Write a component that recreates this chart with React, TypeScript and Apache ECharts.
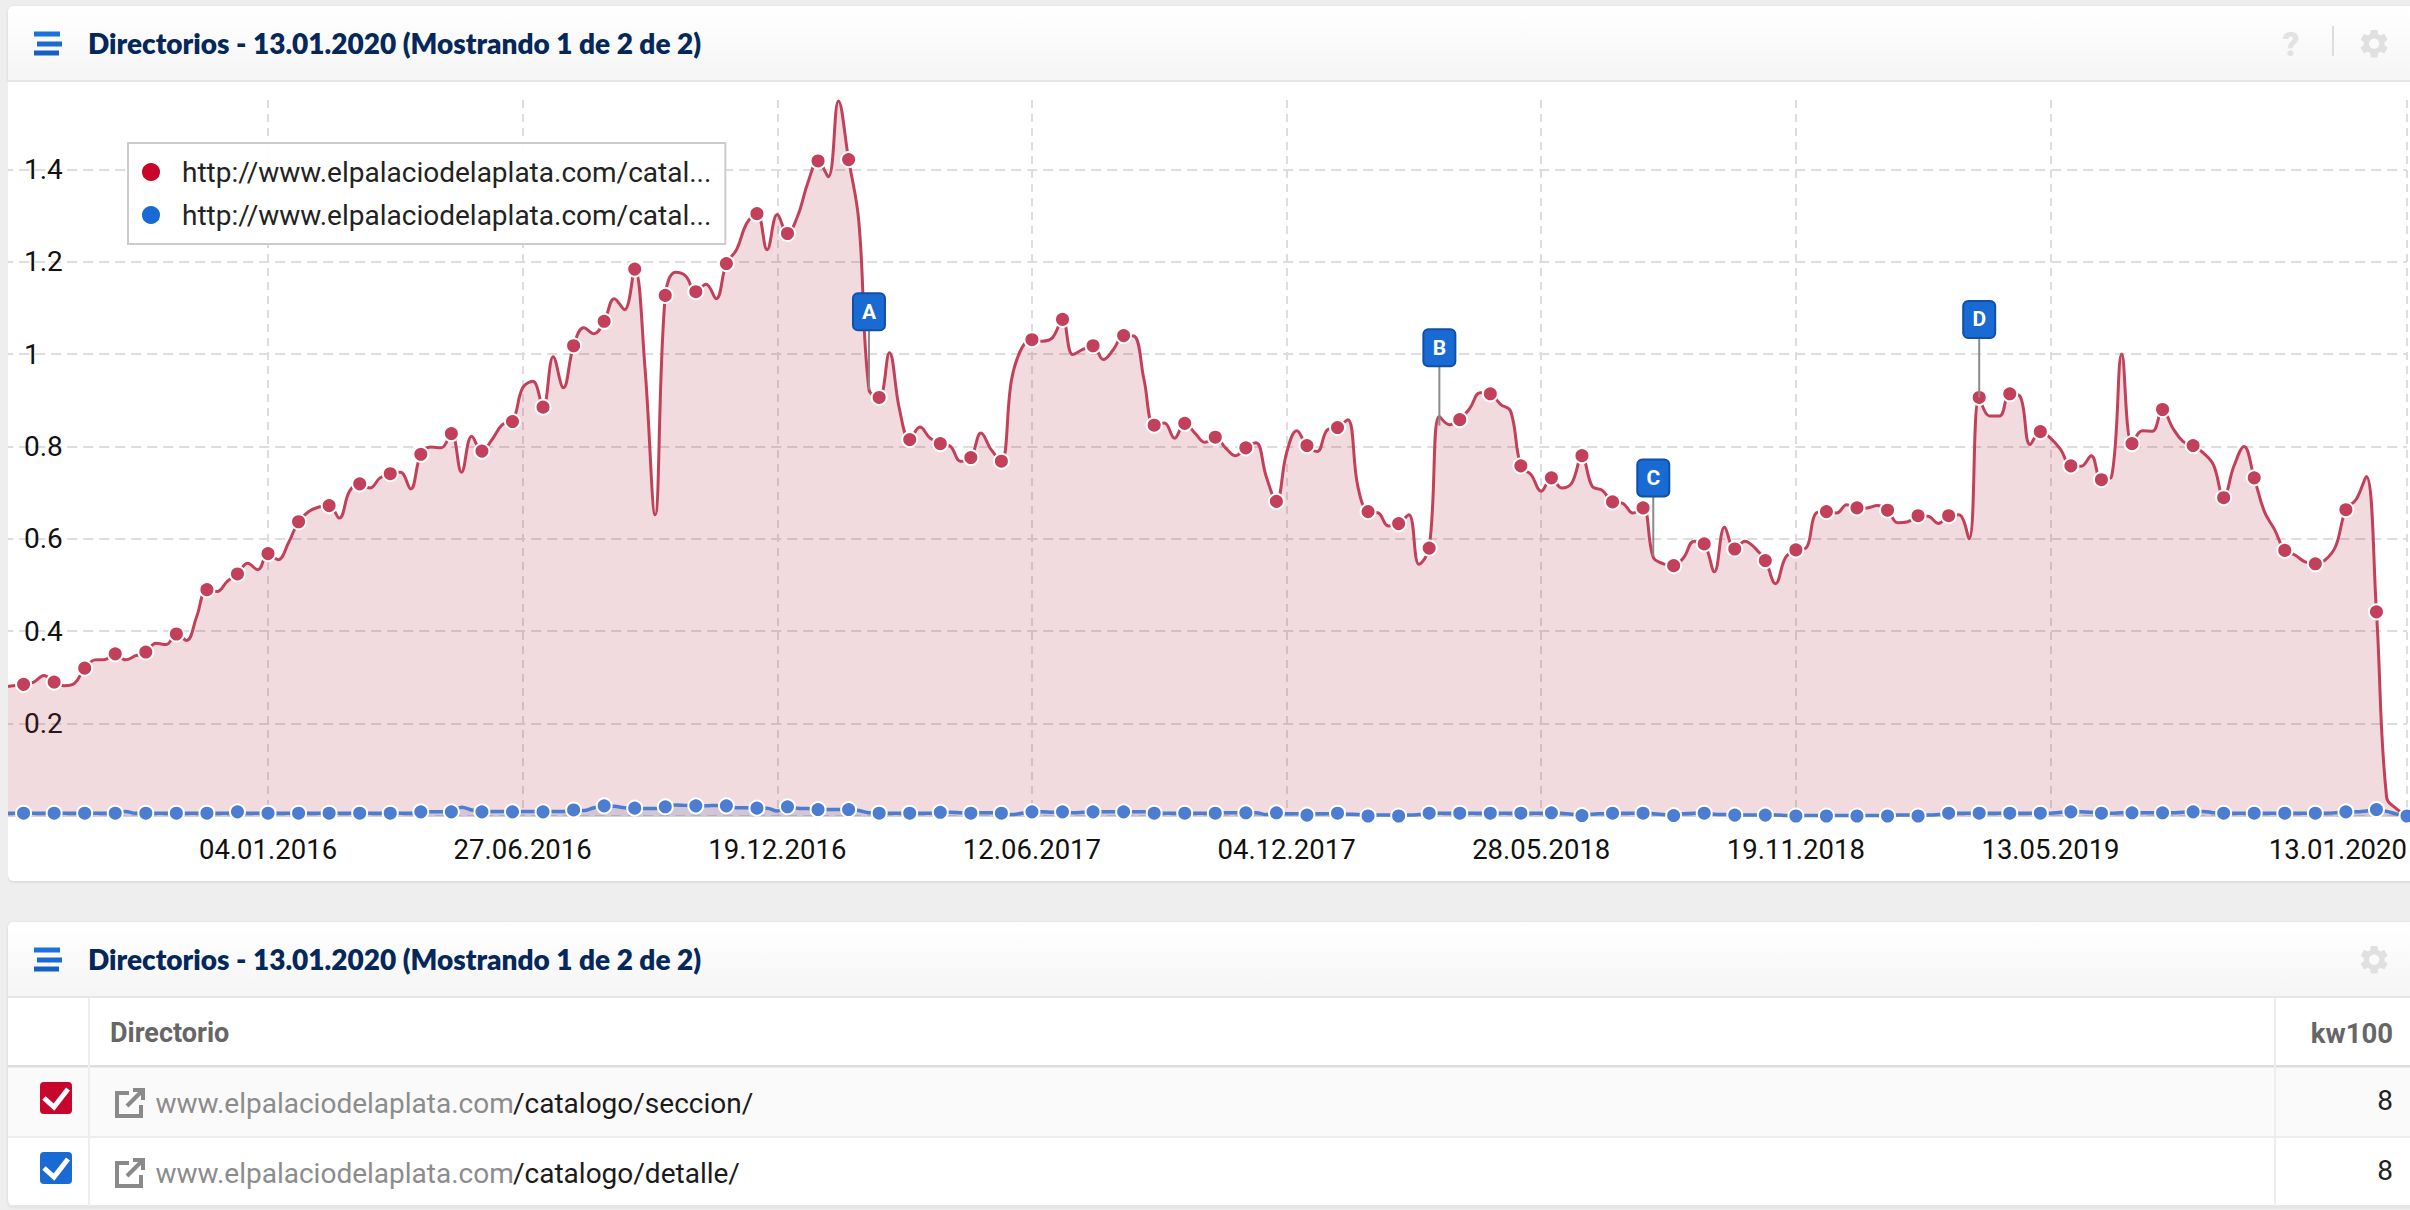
import React, { useEffect, useRef } from "react";
import * as echarts from "echarts";

const FONT = "Roboto";
const TITLE_FONT = "Lato";
const TITLE = "Directorios - 13.01.2020 (Mostrando 1 de 2 de 2)";
const SERIES_NAMES = [
  "http://www.elpalaciodelaplata.com/catalogo/seccion/",
  "http://www.elpalaciodelaplata.com/catalogo/detalle/",
];
const X_TICK_LABELS = [
  "04.01.2016", "27.06.2016", "19.12.2016", "12.06.2017", "04.12.2017",
  "28.05.2018", "19.11.2018", "13.05.2019", "13.01.2020",
];
const Y_TICKS = [0, 0.2, 0.4, 0.6, 0.8, 1, 1.2, 1.4];
const Y_TICK_LABELS = [0.2, 0.4, 0.6, 0.8, 1, 1.2, 1.4];

// Weekly dates: the chart starts on 06.07.2015 and ends on 13.01.2020
const WEEK_COUNT = 237;
const categories: string[] = [];
for (let i = 0; i < WEEK_COUNT; i++) {
  const d = new Date(Date.UTC(2015, 6, 6 + i * 7));
  const p = (n: number) => String(n).padStart(2, "0");
  categories.push(`${p(d.getUTCDate())}.${p(d.getUTCMonth() + 1)}.${d.getUTCFullYear()}`);
}

const redValues = [
  0.28, 0.282,
  0.285, 0.29, 0.304,
  0.29, 0.282, 0.287,
  0.32, 0.338, 0.339,
  0.351, 0.338, 0.347,
  0.355, 0.374, 0.371,
  0.394, 0.38, 0.432,
  0.49, 0.486, 0.508,
  0.524, 0.547, 0.533,
  0.568, 0.555, 0.591,
  0.637, 0.659, 0.669,
  0.672, 0.645, 0.703,
  0.719, 0.71, 0.732,
  0.741, 0.744, 0.708,
  0.783, 0.799, 0.797,
  0.828, 0.744, 0.822,
  0.79, 0.815, 0.847,
  0.854, 0.927, 0.941,
  0.885, 0.994, 0.927,
  1.018, 1.057, 1.044,
  1.071, 1.12, 1.096,
  1.184, 0.973, 0.652,
  1.127, 1.177, 1.169,
  1.135, 1.151, 1.12,
  1.196, 1.226, 1.283,
  1.304, 1.226, 1.302,
  1.261, 1.299, 1.371,
  1.418, 1.384, 1.548,
  1.421, 1.288, 0.923,
  0.906, 1.003, 0.88,
  0.815, 0.842, 0.818,
  0.806, 0.8, 0.768,
  0.776, 0.829, 0.793,
  0.768, 0.945, 1.013,
  1.031, 1.028, 1.035,
  1.075, 0.999, 1.01,
  1.018, 0.988, 1.01,
  1.04, 1.039, 0.945,
  0.846, 0.851, 0.818,
  0.85, 0.829, 0.809,
  0.82, 0.797, 0.78,
  0.797, 0.808, 0.735,
  0.681, 0.786, 0.834,
  0.802, 0.789, 0.836,
  0.841, 0.858, 0.713,
  0.659, 0.656, 0.628,
  0.633, 0.652, 0.545,
  0.58, 0.865, 0.847,
  0.858, 0.883, 0.916,
  0.914, 0.891, 0.876,
  0.758, 0.739, 0.703,
  0.732, 0.71, 0.721,
  0.78, 0.714, 0.705,
  0.68, 0.677, 0.656,
  0.667, 0.56, 0.546,
  0.542, 0.56, 0.595,
  0.589, 0.529, 0.625,
  0.578, 0.595, 0.58,
  0.553, 0.503, 0.56,
  0.576, 0.58, 0.656,
  0.659, 0.656, 0.674,
  0.667, 0.667, 0.672,
  0.662, 0.635, 0.637,
  0.65, 0.649, 0.633,
  0.65, 0.652, 0.6,
  0.906, 0.866, 0.866,
  0.914, 0.909, 0.804,
  0.832, 0.818, 0.793,
  0.758, 0.757, 0.78,
  0.728, 0.735, 1.0,
  0.806, 0.834, 0.833,
  0.88, 0.84, 0.811,
  0.802, 0.786, 0.76,
  0.689, 0.757, 0.8,
  0.732, 0.659, 0.62,
  0.575, 0.565, 0.55,
  0.546, 0.555, 0.584,
  0.663, 0.685, 0.735,
  0.442, 0.04, 0.015,
  0,
];

const blueValues = [
  0.006, 0.006,
  0.006, 0.006, 0.006,
  0.006, 0.006, 0.006,
  0.006, 0.006, 0.006,
  0.006, 0.01, 0.006,
  0.006, 0.006, 0.006,
  0.006, 0.006, 0.006,
  0.006, 0.006, 0.006,
  0.009, 0.006, 0.006,
  0.006, 0.006, 0.006,
  0.006, 0.006, 0.006,
  0.006, 0.006, 0.006,
  0.006, 0.006, 0.006,
  0.006, 0.006, 0.006,
  0.009, 0.009, 0.009,
  0.009, 0.019, 0.013,
  0.009, 0.01, 0.01,
  0.009, 0.01, 0.01,
  0.009, 0.01, 0.01,
  0.013, 0.012, 0.018,
  0.022, 0.021, 0.018,
  0.017, 0.016, 0.016,
  0.02, 0.024, 0.023,
  0.022, 0.022, 0.023,
  0.022, 0.018, 0.018,
  0.017, 0.017, 0.011,
  0.02, 0.017, 0.016,
  0.014, 0.014, 0.014,
  0.014, 0.012, 0.007,
  0.006, 0.006, 0.006,
  0.006, 0.006, 0.006,
  0.008, 0.008, 0.007,
  0.006, 0.007, 0.007,
  0.006, 0.003, 0.006,
  0.009, 0.009, 0.008,
  0.009, 0.007, 0.008,
  0.009, 0.009, 0.009,
  0.009, 0.009, 0.009,
  0.006, 0.006, 0.006,
  0.006, 0.006, 0.006,
  0.006, 0.007, 0.007,
  0.007, 0.007, 0.003,
  0.007, 0.005, 0.005,
  0.002, 0.005, 0.005,
  0.006, 0.004, 0.003,
  0, 0.002, 0.002,
  0, 0.002, 0.003,
  0.006, 0.006, 0.006,
  0.006, 0.006, 0.006,
  0.006, 0.006, 0.006,
  0.006, 0.006, 0.006,
  0.007, 0.006, 0.004,
  0.001, 0.004, 0.005,
  0.006, 0.006, 0.006,
  0.006, 0.005, 0.003,
  0.001, 0.005, 0.006,
  0.006, 0.004, 0.003,
  0.002, 0.002, 0.002,
  0.002, 0.002, 0.001,
  0, 0.001, 0.001,
  0, 0.001, 0.001,
  0, 0.001, 0.001,
  0, 0.002, 0.002,
  0, 0.002, 0.003,
  0.006, 0.006, 0.006,
  0.006, 0.006, 0.006,
  0.006, 0.006, 0.006,
  0.006, 0.006, 0.008,
  0.009, 0.009, 0.008,
  0.006, 0.006, 0.007,
  0.007, 0.007, 0.007,
  0.007, 0.007, 0.008,
  0.009, 0.01, 0.007,
  0.006, 0.006, 0.006,
  0.006, 0.006, 0.006,
  0.006, 0.006, 0.006,
  0.006, 0.006, 0.007,
  0.009, 0.009, 0.011,
  0.014, 0.01, 0.004,
  0,
];

const flagDates = ["20.02.2017", "19.03.2018", "13.08.2018", "25.03.2019"];
const flagValues = [0.923, 0.845, 0.563, 0.906];
const flagLetters = ["A", "B", "C", "D"];

const tableRows = [
  { path: "/catalogo/seccion/", value: "8", color: "#c8052d" },
  { path: "/catalogo/detalle/", value: "8", color: "#1a6ad4" },
];
const DOMAIN = "www.elpalaciodelaplata.com";

const GEAR =
  "M19.14,12.94c0.04-0.3,0.06-0.61,0.06-0.94c0-0.32-0.02-0.64-0.07-0.94l2.03-1.58c0.18-0.14,0.23-0.41,0.12-0.61l-1.92-3.32c-0.12-0.22-0.37-0.29-0.59-0.22l-2.39,0.96c-0.5-0.38-1.03-0.7-1.62-0.94L14.4,2.81c-0.04-0.24-0.24-0.41-0.48-0.41h-3.84c-0.24,0-0.43,0.17-0.47,0.41L9.25,5.35C8.66,5.59,8.12,5.92,7.63,6.29L5.24,5.33c-0.22-0.08-0.47,0-0.59,0.22L2.74,8.87C2.62,9.08,2.66,9.34,2.86,9.48l2.03,1.58C4.84,11.36,4.8,11.69,4.8,12s0.02,0.64,0.07,0.94l-2.03,1.58c-0.18,0.14-0.23,0.41-0.12,0.61l1.92,3.32c0.12,0.22,0.37,0.29,0.59,0.22l2.39-0.96c0.5,0.38,1.03,0.7,1.62,0.94l0.36,2.54c0.05,0.24,0.24,0.41,0.48,0.41h3.84c0.24,0,0.44-0.17,0.47-0.41l0.36-2.54c0.59-0.24,1.13-0.56,1.62-0.94l2.39,0.96c0.22,0.08,0.47,0,0.59-0.22l1.92-3.32c0.12-0.22,0.07-0.47-0.12-0.61L19.14,12.94z M12,15.6c-1.98,0-3.6-1.62-3.6-3.6s1.62-3.6,3.6-3.6s3.6,1.62,3.6,3.6S13.98,15.6,12,15.6z";

const headerGradient = {
  type: "linear", x: 0, y: 0, x2: 0, y2: 1,
  colorStops: [{ offset: 0, color: "#ffffff" }, { offset: 1, color: "#f5f5f5" }],
};

function hamburger(y: number) {
  const bar = (x: number, yy: number, w: number, color: string) => ({
    type: "rect", z: 60, shape: { x, y: yy, width: w, height: 5 }, style: { fill: color },
  });
  return [
    bar(34, y - 0.5, 26, "#1c72dc"),
    bar(37, y + 9.5, 25, "#1a6ad4"),
    bar(34, y + 18.5, 25, "#1660c4"),
  ];
}

function panelChrome(top: number, bottom: number, headerBottom: number, withHelp: boolean) {
  const gearY = top + 20.5;
  const items: any[] = [
    {
      type: "rect", z: -10,
      shape: { x: 8, y: top, width: 2420, height: bottom - top, r: 6 },
      style: { fill: "#ffffff", shadowBlur: 3, shadowColor: "rgba(0,0,0,0.12)", shadowOffsetY: 1 },
    },
    {
      type: "rect", z: 60,
      shape: { x: 8, y: top, width: 2420, height: headerBottom - top, r: [6, 0, 0, 0] },
      style: { fill: headerGradient },
    },
    { type: "rect", z: 61, shape: { x: 8, y: headerBottom, width: 2410, height: 2 }, style: { fill: "#e6e6e6" } },
    ...hamburger(top + 26),
    {
      type: "text", z: 62, x: 88, y: top + 37,
      style: {
        text: TITLE, fill: "#04285a", font: `800 28px ${TITLE_FONT}`,
        verticalAlign: "middle", align: "left",
      },
    },
    {
      type: "gear", z: 62, x: 2357, y: gearY, scaleX: 1.43, scaleY: 1.43,
      style: { fill: "#e0e0e0" },
    },
  ];
  if (withHelp) {
    items.push(
      {
        type: "text", z: 62, x: 2291, y: top + 38,
        style: { text: "?", fill: "#e2e2e2", font: `900 33px ${FONT}`, align: "center", verticalAlign: "middle" },
      },
      { type: "rect", z: 62, shape: { x: 2332, y: 26, width: 2, height: 30 }, style: { fill: "#dddddd" } },
    );
  }
  return items;
}

function tableGraphics() {
  const items: any[] = [
    { type: "rect", z: 1, shape: { x: 8, y: 1067, width: 2402, height: 70 }, style: { fill: "#fafafa" } },
    { type: "rect", z: 2, shape: { x: 8, y: 1065, width: 2402, height: 2.5 }, style: { fill: "#dcdcdc" } },
    { type: "rect", z: 2, shape: { x: 8, y: 1136, width: 2402, height: 2 }, style: { fill: "#eeeeee" } },
    { type: "rect", z: 2, shape: { x: 8, y: 1205, width: 2402, height: 2 }, style: { fill: "#e6e6e6" } },
    { type: "rect", z: 3, shape: { x: 88, y: 998, width: 2, height: 208 }, style: { fill: "#eeeeee" } },
    { type: "rect", z: 3, shape: { x: 2274, y: 998, width: 2, height: 208 }, style: { fill: "#eeeeee" } },
    {
      type: "text", z: 5, x: 110, y: 1033,
      style: { text: "Directorio", fill: "#666666", font: `bold 27px ${FONT}`, verticalAlign: "middle" },
    },
    {
      type: "text", z: 5, x: 2393, y: 1033,
      style: { text: "kw100", fill: "#666666", font: `bold 27.5px ${FONT}`, align: "right", verticalAlign: "middle" },
    },
  ];
  tableRows.forEach((row, i) => {
    const dy = i * 70;
    items.push(
      {
        type: "rect", z: 5, shape: { x: 40, y: 1082 + dy, width: 32, height: 32, r: 4 },
        style: { fill: row.color },
      },
      {
        type: "polyline", z: 6,
        shape: { points: [[44, 1098 + dy], [54, 1107 + dy], [68, 1089 + dy]] },
        style: { stroke: "#ffffff", lineWidth: 5, fill: "none" },
      },
      {
        type: "polyline", z: 6,
        shape: { points: [[129, 1093 + dy], [117, 1093 + dy], [117, 1116 + dy], [141, 1116 + dy], [141, 1105 + dy]] },
        style: { stroke: "#8a8a8a", lineWidth: 4, fill: "none" },
      },
      {
        type: "polyline", z: 6,
        shape: { points: [[127, 1106 + dy], [143, 1090 + dy]] },
        style: { stroke: "#8a8a8a", lineWidth: 4, fill: "none" },
      },
      {
        type: "polyline", z: 6,
        shape: { points: [[133, 1090 + dy], [143, 1090 + dy], [143, 1100 + dy]] },
        style: { stroke: "#8a8a8a", lineWidth: 4, fill: "none" },
      },
      {
        type: "text", z: 6, x: 155.5, y: 1103 + dy,
        style: { text: DOMAIN, fill: "#8c8c8c", font: `400 28px ${FONT}`, verticalAlign: "middle" },
      },
      {
        type: "text", z: 6, x: 513, y: 1103 + dy,
        style: { text: row.path, fill: "#1a1a1a", font: `400 28px ${FONT}`, verticalAlign: "middle" },
      },
      {
        type: "text", z: 6, x: 2393, y: 1100 + dy,
        style: { text: row.value, fill: "#222222", font: `400 28px ${FONT}`, align: "right", verticalAlign: "middle" },
      },
    );
  });
  return items;
}

// A dot every third week, counted from the last point
function seriesData(values: number[]) {
  return values.map((v, i) => ((i + 1) % 3 === 0 ? v : { value: v, symbol: "none" }));
}

export default function App() {
  const ref = useRef<HTMLDivElement>(null);
  useEffect(() => {
    document.body.style.margin = "0";
    document.body.style.background = "#eeeeee";
    echarts.graphic.registerShape("gear", echarts.graphic.extendPath(GEAR, {}));
    const chart = echarts.init(ref.current!, undefined, { renderer: "svg" });
    const dashedV = { color: "#dddddd", width: 2, type: [8, 6] };
    const dashedH = { color: "#dddddd", width: 2, type: [10, 6] };
    chart.setOption({
      animation: false,
      backgroundColor: "#eeeeee",
      grid: { left: 3.2, right: 3, top: 100, bottom: 394, containLabel: false },
      legend: {
        left: 128, top: 143, orient: "vertical", z: 10,
        padding: [15, 14, 15, 12], itemGap: 15, itemWidth: 20, itemHeight: 20, icon: "circle",
        backgroundColor: "rgba(255,255,255,0.92)", borderColor: "#cccccc", borderWidth: 2,
        textStyle: { fontFamily: FONT, fontSize: 28, color: "#222222", padding: [0, 0, 0, 16] },
        formatter: (name: string) => name.slice(0, 39) + "...",
        data: [
          { name: SERIES_NAMES[0], itemStyle: { color: "#c8052d" } },
          { name: SERIES_NAMES[1], itemStyle: { color: "#1a6ad4" } },
        ],
      },
      xAxis: {
        type: "category", data: categories, boundaryGap: false,
        axisLine: { show: true, lineStyle: { color: "#d5d0d8", width: 1 } },
        axisTick: { show: false },
        axisLabel: {
          interval: (_i: number, v: string) => X_TICK_LABELS.includes(v),
          alignMaxLabel: "right",
          fontFamily: FONT, fontSize: 27.5, color: "#111111", margin: 19,
        },
        splitLine: {
          show: true, lineStyle: dashedV,
          interval: (_i: number, v: string) => X_TICK_LABELS.includes(v),
        },
      },
      yAxis: {
        type: "value", min: 0, max: 1.55,
        axisLine: { show: false },
        axisTick: { show: false, customValues: Y_TICKS },
        axisLabel: {
          inside: true, margin: 20.8, customValues: Y_TICK_LABELS,
          fontFamily: FONT, fontSize: 28, color: "#111111",
        },
        splitLine: { show: true, lineStyle: dashedH },
      },
      series: [
        {
          name: SERIES_NAMES[0], type: "line", data: seriesData(redValues), smooth: 0.4, clip: false,
          showAllSymbol: true, symbol: "circle", symbolSize: 15,
          itemStyle: { color: "#c2405a", borderColor: "#ffffff", borderWidth: 2 },
          lineStyle: { color: "#c2405a", width: 3 },
          areaStyle: { color: "rgb(170,40,60)", opacity: 0.17 },
          z: 2,
        },
        {
          name: SERIES_NAMES[1], type: "line", data: seriesData(blueValues), smooth: 0.4, clip: false,
          showAllSymbol: true, symbol: "circle", symbolSize: 15,
          itemStyle: { color: "#4c7dd0", borderColor: "#ffffff", borderWidth: 2 },
          lineStyle: { color: "#4c7dd0", width: 3.5 },
          areaStyle: { color: "rgb(60,90,180)", opacity: 0.17 },
          z: 3,
        },
        {
          name: "flags", type: "custom", coordinateSystem: "cartesian2d", clip: false, z: 6,
          encode: { x: 0, y: 1 },
          data: flagDates.map((d, i) => [d, flagValues[i]]),
          renderItem: (params: any, api: any) => {
            const p = api.coord([api.value(0), api.value(1)]);
            const cy = p[1] - 78;
            return {
              type: "group",
              children: [
                { type: "line", shape: { x1: p[0], y1: cy + 19, x2: p[0], y2: p[1] }, style: { stroke: "#8a8a8a", lineWidth: 2 } },
                {
                  type: "rect", shape: { x: p[0] - 16, y: cy - 18.5, width: 32, height: 37, r: 5 },
                  style: { fill: "#1a6ad4", stroke: "#0f50a8", lineWidth: 2 },
                },
                {
                  type: "text",
                  style: {
                    x: p[0], y: cy, text: flagLetters[params.dataIndex], fill: "#ffffff",
                    font: `bold 21px ${FONT}`, align: "center", verticalAlign: "middle",
                  },
                },
              ],
            };
          },
        },
      ],
      graphic: {
        elements: [
          { type: "rect", z: 50, shape: { x: 0, y: 82, width: 8, height: 800 }, style: { fill: "#eeeeee" } },
          ...panelChrome(6, 881, 80, true),
          ...panelChrome(922, 1206, 996, false),
          ...tableGraphics(),
        ],
      },
    });
    return () => chart.dispose();
  }, []);
  return <div ref={ref} style={{ width: 2410, height: 1210 }} />;
}
